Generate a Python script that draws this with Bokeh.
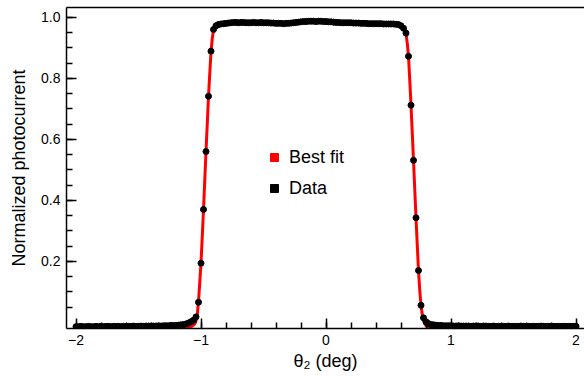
import numpy as np
from bokeh.plotting import figure
from bokeh.models import (Range1d, FixedTicker, LinearAxis, Legend, LegendItem)
from bokeh.embed import file_html
from bokeh.resources import INLINE

# ---------------- data ----------------
theta_start = -2.0
theta_step = 0.02
data_y = [
    -0.014, -0.014, -0.013, -0.014, -0.014, -0.013, -0.014, -0.014, -0.013, -0.014,
    -0.013, -0.014, -0.013, -0.013, -0.014, -0.013, -0.013, -0.013, -0.014, -0.013,
    -0.013, -0.013, -0.013, -0.012, -0.013, -0.013, -0.012, -0.013, -0.012, -0.012,
    -0.012, -0.012, -0.012, -0.011, -0.012, -0.011, -0.011, -0.011, -0.010, -0.010,
    -0.010, -0.009, -0.008, -0.007, -0.005, -0.002, 0.002, 0.007, 0.018, 0.066,
    0.194, 0.370, 0.560, 0.741, 0.889, 0.960, 0.972, 0.976, 0.978, 0.979,
    0.980, 0.981, 0.982, 0.983, 0.983, 0.982, 0.983, 0.983, 0.982, 0.982,
    0.982, 0.983, 0.982, 0.982, 0.983, 0.982, 0.982, 0.982, 0.981, 0.981,
    0.980, 0.980, 0.980, 0.979, 0.980, 0.980, 0.981, 0.982, 0.983, 0.984,
    0.985, 0.986, 0.986, 0.987, 0.987, 0.987, 0.986, 0.987, 0.987, 0.986,
    0.986, 0.985, 0.985, 0.984, 0.983, 0.983, 0.982, 0.982, 0.982, 0.982,
    0.982, 0.981, 0.981, 0.981, 0.980, 0.980, 0.980, 0.979, 0.979, 0.979,
    0.979, 0.979, 0.979, 0.978, 0.978, 0.978, 0.978, 0.978, 0.977, 0.976,
    0.972, 0.964, 0.948, 0.872, 0.712, 0.531, 0.343, 0.170, 0.056, 0.015,
    0.002, -0.004, -0.007, -0.008, -0.009, -0.010, -0.010, -0.011, -0.011, -0.011,
    -0.011, -0.012, -0.012, -0.011, -0.012, -0.012, -0.012, -0.012, -0.013, -0.012,
    -0.012, -0.012, -0.013, -0.012, -0.012, -0.013, -0.013, -0.012, -0.013, -0.013,
    -0.013, -0.013, -0.013, -0.012, -0.013, -0.013, -0.013, -0.013, -0.012, -0.013,
    -0.013, -0.013, -0.013, -0.013, -0.013, -0.013, -0.012, -0.013, -0.013, -0.013,
    -0.013, -0.013, -0.013, -0.013, -0.013, -0.013, -0.013, -0.013, -0.013, -0.013,
    -0.013,
]
data_x = [round(theta_start + theta_step * i, 2) for i in range(len(data_y))]

fit_x = [-2.0, -1.10, -1.07, -1.05, -1.04, -1.03, -1.02, -1.01, -1.00, -0.99,
         -0.98, -0.97, -0.96, -0.95, -0.94, -0.93, -0.92, -0.91, -0.90, -0.89,
         -0.88, -0.86, -0.80, -0.50, 0.0, 0.30, 0.58, 0.61, 0.63, 0.64,
         0.65, 0.66, 0.67, 0.68, 0.69, 0.70, 0.71, 0.72, 0.73, 0.74,
         0.75, 0.76, 0.77, 0.78, 0.79, 0.80, 0.83, 2.0]
fit_y = [-0.016, -0.016, -0.012, -0.005, 0.005, 0.025, 0.07, 0.13, 0.195, 0.28,
         0.37, 0.465, 0.56, 0.65, 0.74, 0.815, 0.885, 0.93, 0.958, 0.973,
         0.979, 0.982, 0.983, 0.983, 0.984, 0.983, 0.981, 0.975, 0.962, 0.948,
         0.915, 0.872, 0.795, 0.712, 0.622, 0.531, 0.437, 0.343, 0.255, 0.170,
         0.105, 0.056, 0.025, 0.008, -0.004, -0.011, -0.016, -0.016]

x_major = [-2, -1, 0, 1, 2]
x_labels = ["\u22122", "\u22121", "0", "1", "2"]
x_minor = [-2.0, -1.8, -1.6, -1.4, -1.2, -1.0, -0.8, -0.6, -0.4, -0.2, 0.0,
           0.2, 0.4, 0.6, 0.8, 1.0, 1.2, 1.4, 1.6, 1.8, 2.0]
y_major = [0.2, 0.4, 0.6, 0.8, 1.0]
y_labels = ["0.2", "0.4", "0.6", "0.8", "1.0"]
y_minor = [0.05, 0.1, 0.15, 0.2, 0.25, 0.3, 0.35, 0.4, 0.45, 0.5, 0.55, 0.6,
           0.65, 0.7, 0.75, 0.8, 0.85, 0.9, 0.95, 1.0]

FONT = "Liberation Sans"
Y_END = 1.032

p = figure(width=584, height=380, output_backend="svg", toolbar_location=None,
           x_range=Range1d(-2.076, 2.068), y_range=Range1d(-0.020, Y_END),
           min_border_left=66, min_border_right=0, min_border_top=7,
           min_border_bottom=52)
p.outline_line_color = None
p.grid.visible = False
p.background_fill_color = "white"
p.border_fill_color = "white"

fit_r = p.line(fit_x, fit_y, line_color="red", line_width=3)
data_r = p.scatter(data_x, data_y, marker="circle", size=6,
                   fill_color="black", line_color="black")

# axes styling
xa = p.xaxis[0]
xa.ticker = FixedTicker(ticks=x_major, minor_ticks=x_minor)
xa.major_label_overrides = {t: l for t, l in zip(x_major, x_labels)}
xa.axis_label = "\u03b8\u2082 (deg)"
ya = p.yaxis[0]
ya.ticker = FixedTicker(ticks=y_major, minor_ticks=y_minor)
ya.major_label_overrides = {t: l for t, l in zip(y_major, y_labels)}
ya.axis_label = "Normalized photocurrent"

for ax in (xa, ya):
    ax.axis_line_color = "black"
    ax.axis_line_width = 1.5
    ax.major_tick_line_color = "black"
    ax.major_tick_line_width = 1.5
    ax.minor_tick_line_color = "black"
    ax.minor_tick_line_width = 1.5
    ax.major_tick_in = 10
    ax.major_tick_out = 0
    ax.minor_tick_in = 6
    ax.minor_tick_out = 0
    ax.major_label_text_font = FONT
    ax.major_label_text_font_size = "14px"
    ax.major_label_text_color = "black"
    ax.major_label_standoff = 6
    ax.axis_label_text_font = FONT
    ax.axis_label_text_font_size = "18px"
    ax.axis_label_text_font_style = "normal"
    ax.axis_label_text_color = "black"
ya.major_label_orientation = "horizontal"
xa.axis_label_standoff = 3
ya.axis_label_standoff = 9

# top frame line (no ticks, no labels)
top = LinearAxis(ticker=FixedTicker(ticks=[0], minor_ticks=[]),
                 major_label_overrides={0: ""},
                 axis_line_color="black", axis_line_width=1.5,
                 major_tick_in=0, major_tick_out=0, minor_tick_in=0,
                 minor_tick_out=0, major_label_standoff=0,
                 major_label_text_font_size="1px")
p.add_layout(top, "above")

# legend with square glyphs (proxy renderers with no visible points)
nan = float("nan")
leg_fit = p.scatter(x=[nan], y=[nan], marker="square", fill_color="red", line_color="red")
leg_data = p.scatter(x=[nan], y=[nan], marker="square", fill_color="black", line_color="black")
legend = Legend(items=[LegendItem(label="Best fit", renderers=[leg_fit]),
                       LegendItem(label="Data", renderers=[leg_data])],
                location=(198, 126), padding=0, margin=0, spacing=3,
                glyph_width=20, glyph_height=28, label_height=28,
                label_standoff=5, label_text_font=FONT,
                label_text_font_size="18px", label_text_color="black",
                border_line_color=None, background_fill_alpha=0)
p.add_layout(legend, "center")

open("out.html", "w").write(file_html(p, INLINE))
